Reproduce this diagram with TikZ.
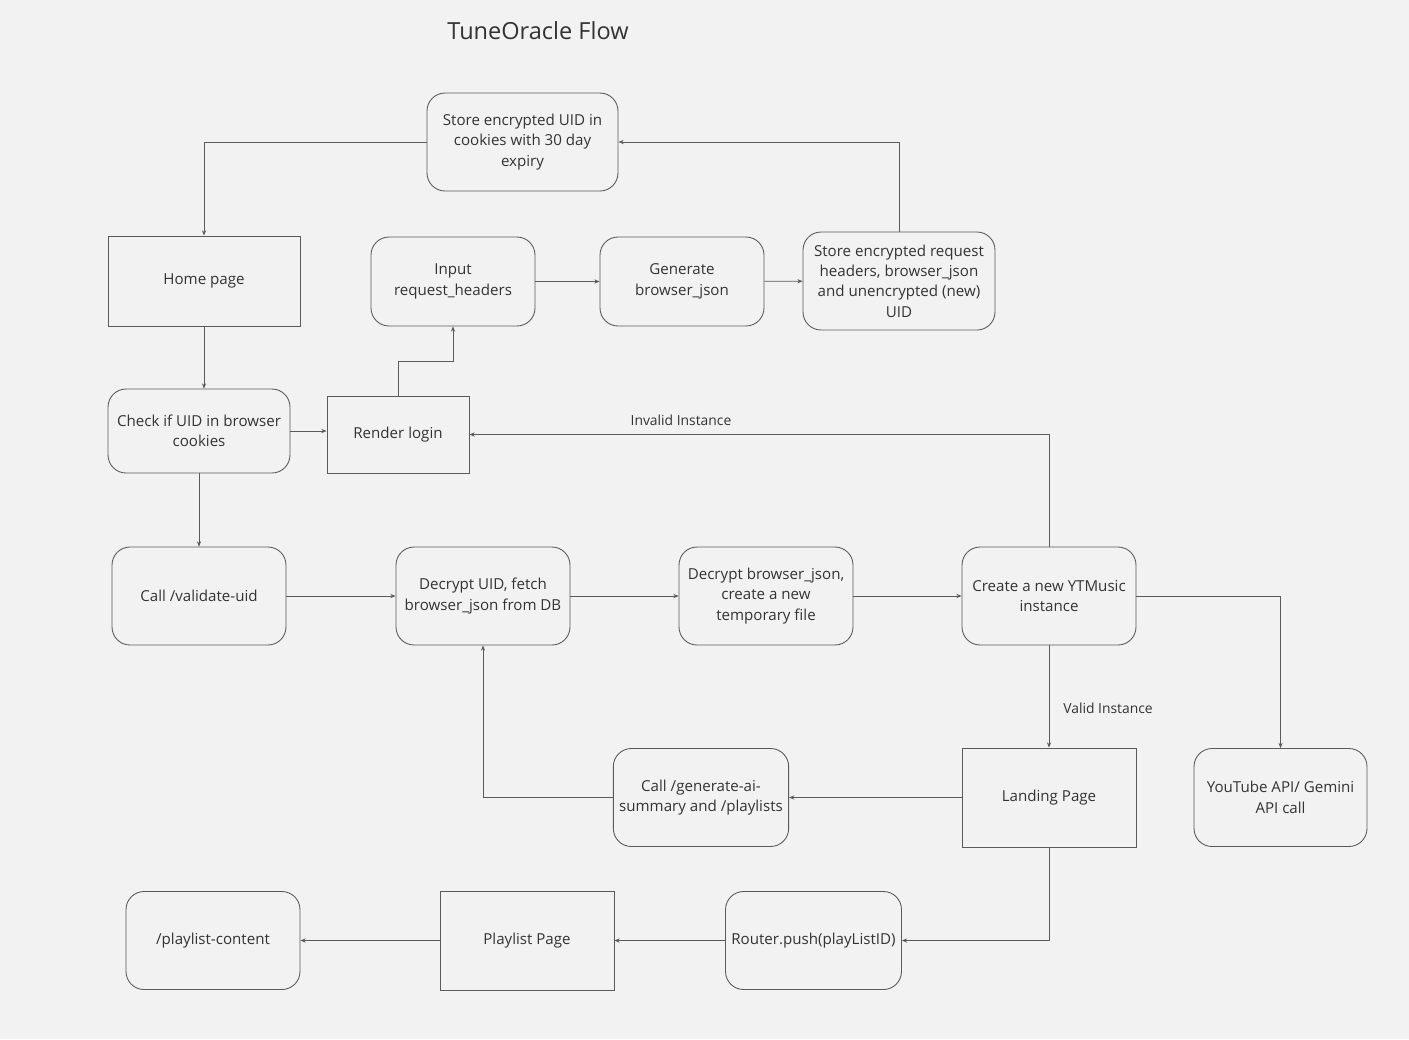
\documentclass[tikz,border=0pt]{standalone}
\usepackage{fontspec}
\setmainfont{Open Sans}
\usetikzlibrary{arrows.meta}
\definecolor{bggray}{HTML}{F2F2F2}
\definecolor{linegray}{HTML}{5A5A5A}
\definecolor{txtgray}{HTML}{333333}

\begin{document}
\begin{tikzpicture}
  [x=0.02cm,y=-0.02cm,
   every node/.style={text=txtgray,font=\fontsize{8.6}{11.6}\selectfont,align=center},
   rbox/.style={draw=linegray,line width=0.5pt,rounded corners=0.36cm,minimum width=3.48cm,minimum height=1.96cm},
   sbox/.style={draw=linegray,line width=0.5pt,minimum width=3.48cm,minimum height=1.98cm},
   arr/.style={draw=linegray,line width=0.45pt,-{Stealth[length=3pt,width=2.4pt]}},
   lbl/.style={font=\fontsize{7.9}{9}\selectfont}]
  \useasboundingbox[fill=bggray] (0,0) rectangle (1409,1039);

  \node[font=\fontsize{13.4}{16}\selectfont] (title) at (538,31) {TuneOracle Flow};

  \node[rbox,minimum width=3.82cm] (suid) at (522.5,142) {Store encrypted UID in\\cookies with 30 day\\expiry};
  \node[sbox,minimum width=3.84cm,minimum height=1.8cm] (home) at (204,281) {Home page};
  \node[rbox,minimum width=3.28cm,minimum height=1.78cm] (input) at (453,281.5) {Input\\request\_headers};
  \node[rbox,minimum width=3.28cm,minimum height=1.78cm] (gen) at (682,281.5) {Generate\\browser\_json};
  \node[rbox,minimum width=3.84cm] (sreq) at (899,281) {Store encrypted request\\headers, browser\_json\\and unencrypted (new)\\UID};
  \node[rbox,minimum width=3.64cm,minimum height=1.68cm] (check) at (199,431) {Check if UID in browser\\cookies};
  \node[sbox,minimum width=2.84cm,minimum height=1.54cm] (render) at (398,434.5) {Render login};

  \node[rbox] (validate) at (199,596) {Call /validate-uid};
  \node[rbox] (duid) at (483,596) {Decrypt UID, fetch\\browser\_json from DB};
  \node[rbox] (djson) at (766,596) {Decrypt browser\_json,\\create a new\\temporary file};
  \node[rbox] (create) at (1049,596) {Create a new YTMusic\\instance};

  \node[rbox] (genai) at (701,797.5) {Call /generate-ai-\\summary and /playlists};
  \node[sbox] (landing) at (1049,797.5) {Landing Page};
  \node[rbox,minimum width=3.46cm] (api) at (1280.5,797.5) {YouTube API/ Gemini\\API call};

  \node[rbox] (plcontent) at (213,940.5) {/playlist-content};
  \node[sbox] (playlist) at (527,940.5) {Playlist Page};
  \node[rbox,minimum width=3.46cm] (router) at (813.5,940.5) {Router.push(playListID)};

  \foreach \from/\to in {input/gen, gen/sreq, check/validate, validate/duid, duid/djson,
    djson/create, create/landing, landing/genai, router/playlist, playlist/plcontent}
    \draw [arr] (\from) -- (\to);

  \draw[arr] (suid.west) -| (home.north);
  \draw[arr] (sreq.north) |- (suid.east);
  \draw[arr] (home.south) -- (home.south |- check.north);
  \draw[arr] (check.east) -- (check.east -| render.west);
  \draw[arr] (render.north) -- ++(0,-34) -| (input.south);
  \draw[arr] (create.north) |- (render.east);
  \draw[arr] (create.east) -| (api.north);
  \draw[arr] (genai.west) -| (duid.south);
  \draw[arr] (landing.south) |- (router.east);

  \node[lbl] (invalid) at (681,420) {Invalid Instance};
  \node[lbl] (valid) at (1108,708) {Valid Instance};
\end{tikzpicture}
\end{document}
